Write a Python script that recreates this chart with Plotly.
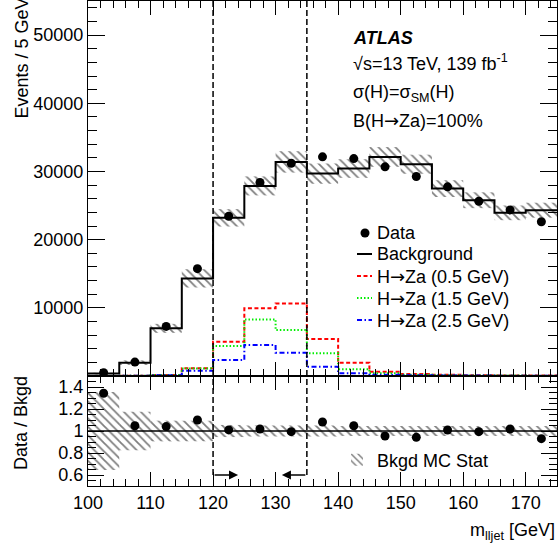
import plotly.graph_objects as go

# ---------------- data ----------------
bin_low = [100, 105, 110, 115, 120, 125, 130, 135, 140, 145, 150, 155, 160, 165, 170]
bin_width = 5
x_max = 175
background = [350, 1950, 6990, 14310, 23200, 27880, 31400, 29700, 30430, 32130, 31060, 27490, 25780, 23930, 24320]
data = [470, 2044, 7270, 15740, 23430, 28380, 31210, 32140, 31890, 30680, 29260, 27740, 25630, 24360, 22620]
mc_stat_rel = [0.355, 0.175, 0.094, 0.094, 0.055, 0.05, 0.05, 0.05, 0.045, 0.045, 0.045, 0.045, 0.045, 0.045, 0.045]
sig_05 = [10, 30, 150, 1130, 5030, 9920, 10650, 5420, 1950, 630, 290, 170, 120, 90, 70]
sig_15 = [10, 30, 150, 1100, 4400, 8300, 6740, 3320, 980, 390, 180, 120, 80, 60, 50]
sig_25 = [10, 30, 120, 780, 2340, 4540, 3420, 1370, 390, 180, 120, 90, 70, 50, 40]
window_lo = 120
window_hi = 135
arrow_len = 4

main_yticks = [0, 10000, 20000, 30000, 40000, 50000]
main_yticktext = ["", "10000", "20000", "30000", "40000", "50000"]
ratio_yticks = [0.6, 0.8, 1.0, 1.2, 1.4]
ratio_yticktext = ["0.6", "0.8", "1", "1.2", "1.4"]
xticks = [100, 110, 120, 130, 140, 150, 160, 170]
xticktext = ["100", "110", "120", "130", "140", "150", "160", "170"]

centers = [lo + bin_width / 2 for lo in bin_low]
step_x = bin_low + [x_max]
ratio = [d / b for d, b in zip(data, background)]

# ---------------- geometry helpers ----------------
W, H = 559, 543
L, R, T, B = 88, 557, 1, 486
PW, PH = R - L, B - T


def px(x):
    return (x - L) / PW


def py(y):
    return (B - y) / PH


split = py(376)
FONT = "Liberation Sans, Arial, Helvetica, sans-serif"
FS = 18
CLEAR = "rgba(0,0,0,0)"
HATCH = dict(shape="\\", size=6, solidity=0.3, fgcolor="black", bgcolor=CLEAR, fillmode="overlay")
ARROW = "<span style='font-family:DejaVu Sans'>→</span>"

fig = go.Figure()

# MC stat hatched band (main)
fig.add_trace(go.Bar(
    x=centers, y=[2 * b * e for b, e in zip(background, mc_stat_rel)],
    base=[b * (1 - e) for b, e in zip(background, mc_stat_rel)],
    width=bin_width, marker=dict(color=CLEAR, line=dict(width=0), pattern=HATCH),
    xaxis="x", yaxis="y", showlegend=False, hoverinfo="skip"))

# signals
for vals, col, dash in [(sig_05, "#ff0000", "4px,2.5px"),
                        (sig_15, "#00ee00", "1.5px,2px"),
                        (sig_25, "#0000ff", "5px,2.5px,1.5px,2.5px")]:
    fig.add_trace(go.Scatter(x=step_x, y=vals + [vals[-1]], mode="lines", line_shape="hv",
                             line=dict(color=col, width=2, dash=dash),
                             xaxis="x", yaxis="y", showlegend=False))

# background
fig.add_trace(go.Scatter(x=step_x, y=background + [background[-1]], mode="lines", line_shape="hv",
                         line=dict(color="black", width=2), xaxis="x", yaxis="y", showlegend=False))
# data
fig.add_trace(go.Scatter(x=centers, y=data, mode="markers", marker=dict(color="black", size=9),
                         xaxis="x", yaxis="y", showlegend=False))

# ratio band
fig.add_trace(go.Bar(
    x=centers, y=[2 * e for e in mc_stat_rel], base=[1 - e for e in mc_stat_rel],
    width=bin_width, name="Bkgd MC Stat", legend="legend2",
    marker=dict(color=CLEAR, line=dict(width=0), pattern=HATCH),
    xaxis="x2", yaxis="y2", showlegend=True, hoverinfo="skip"))
fig.add_trace(go.Scatter(x=centers, y=ratio, mode="markers", marker=dict(color="black", size=9),
                         xaxis="x2", yaxis="y2", showlegend=False))

axis_common = dict(showline=True, linecolor="black", linewidth=1, mirror="allticks",
                   ticks="inside", tickcolor="black", tickwidth=1, showgrid=False, zeroline=False,
                   tickfont=dict(family=FONT, size=FS, color="black"))

fig.update_layout(
    width=W, height=H, autosize=False,
    margin=dict(l=L, r=W - R, t=T, b=H - B, pad=0),
    paper_bgcolor="white", plot_bgcolor="white",
    font=dict(family=FONT, size=FS, color="black"),
    barmode="overlay", showlegend=True,
    xaxis=dict(domain=[0, 1], anchor="y", range=[bin_low[0], x_max], tickvals=xticks,
               showticklabels=False, ticklen=14,
               minor=dict(dtick=2, tick0=100, ticklen=7, ticks="inside", tickcolor="black"),
               matches="x2", **axis_common),
    yaxis=dict(domain=[split, 1], anchor="x", range=[0, 55000], tickvals=main_yticks,
               ticktext=main_yticktext, ticklen=17,
               minor=dict(dtick=2000, tick0=0, ticklen=9, ticks="inside", tickcolor="black"),
               **axis_common),
    xaxis2=dict(domain=[0, 1], anchor="y2", range=[bin_low[0], x_max], tickvals=xticks,
                ticktext=xticktext, ticklen=14,
                minor=dict(dtick=2, tick0=100, ticklen=7, ticks="inside", tickcolor="black"),
                **axis_common),
    yaxis2=dict(domain=[0, split], anchor="x2", range=[0.5, 1.5], tickvals=ratio_yticks,
                ticktext=ratio_yticktext, ticklen=16,
                minor=dict(dtick=0.05, tick0=0.5, ticklen=8, ticks="inside", tickcolor="black"),
                **axis_common),
    legend2=dict(x=px(337), y=py(460), xanchor="left", yanchor="middle",
                 bgcolor=CLEAR, font=dict(family=FONT, size=FS, color="black")),
)

shapes = []
# window lines
for xv in (window_lo, window_hi):
    shapes.append(dict(type="line", xref="x", yref="y", x0=xv, x1=xv, y0=0, y1=55000,
                       line=dict(color="black", width=1.5, dash="6px,3px")))
    shapes.append(dict(type="line", xref="x2", yref="y2", x0=xv, x1=xv, y0=0.6, y1=1.5,
                       line=dict(color="black", width=1.5, dash="6px,3px")))
# ratio unity line
shapes.append(dict(type="line", xref="x2", yref="y2", x0=bin_low[0], x1=x_max, y0=1, y1=1,
                   line=dict(color="black", width=1.5)))

# manual legend symbols (main panel)
leg_x0, leg_x1, leg_tx = 357, 372, 375
leg_rows = [233, 254, 276, 298, 320]
shapes.append(dict(type="circle", xref="paper", yref="paper",
                   x0=px(360.5), x1=px(369.5), y0=py(leg_rows[0] + 4.5), y1=py(leg_rows[0] - 4.5),
                   fillcolor="black", line=dict(width=0)))
for row, col, dash, wd in [(leg_rows[1], "black", "solid", 2),
                           (leg_rows[2], "#ff0000", "4px,2.5px", 2),
                           (leg_rows[3], "#00ee00", "1.5px,2px", 2),
                           (leg_rows[4], "#0000ff", "5px,2.5px,1.5px,2.5px", 2)]:
    shapes.append(dict(type="line", xref="paper", yref="paper", x0=px(leg_x0), x1=px(leg_x1),
                       y0=py(row), y1=py(row), line=dict(color=col, width=wd, dash=dash)))
fig.update_layout(shapes=shapes)

ann = []
leg_texts = ["Data", "Background", "H" + ARROW + "Za (0.5 GeV)", "H" + ARROW + "Za (1.5 GeV)",
             "H" + ARROW + "Za (2.5 GeV)"]
for row, t in zip(leg_rows, leg_texts):
    ann.append(dict(text=t, x=px(leg_tx), y=py(row), xref="paper", yref="paper",
                    xanchor="left", yanchor="middle", showarrow=False, font=dict(size=FS)))

# ATLAS labels
ann.append(dict(text="<b><i>ATLAS</i></b>", x=px(351), y=py(38), xref="paper", yref="paper",
                xanchor="left", yanchor="middle", showarrow=False, font=dict(size=FS)))
ann.append(dict(text="√s=13 TeV, 139 fb<sup>-1</sup>", x=px(351), y=py(62), xref="paper", yref="paper",
                xanchor="left", yanchor="middle", showarrow=False, font=dict(size=FS)))
ann.append(dict(text="σ(H)=σ<sub>SM</sub>(H)", x=px(351), y=py(94), xref="paper", yref="paper",
                xanchor="left", yanchor="middle", showarrow=False, font=dict(size=FS)))
ann.append(dict(text="B(H" + ARROW + "Za)=100%", x=px(351), y=py(120), xref="paper", yref="paper",
                xanchor="left", yanchor="middle", showarrow=False, font=dict(size=FS)))

# axis titles
ann.append(dict(text="Events / 5 GeV", textangle=-90, x=px(21), y=py(-4), xref="paper", yref="paper",
                xanchor="center", yanchor="top", showarrow=False, font=dict(size=FS)))
ann.append(dict(text="Data / Bkgd", textangle=-90, x=px(21), y=py(374), xref="paper", yref="paper",
                xanchor="center", yanchor="top", showarrow=False, font=dict(size=FS)))
ann.append(dict(text="m<sub>lljet</sub> [GeV]", x=1, y=py(531), xref="paper", yref="paper",
                xanchor="right", yanchor="middle", showarrow=False, font=dict(size=FS)))

# window arrows
ann.append(dict(x=window_lo + arrow_len, y=0.6, ax=window_lo, ay=0.6, xref="x2", yref="y2",
                axref="x2", ayref="y2", text="", showarrow=True, arrowhead=2, arrowsize=1.4,
                arrowwidth=1.3, arrowcolor="black"))
ann.append(dict(x=window_hi - arrow_len, y=0.6, ax=window_hi, ay=0.6, xref="x2", yref="y2",
                axref="x2", ayref="y2", text="", showarrow=True, arrowhead=2, arrowsize=1.4,
                arrowwidth=1.3, arrowcolor="black"))
fig.update_layout(annotations=ann)

fig.write_html("out.html", config={"displayModeBar": False},
               post_script="document.body.style.margin='0';document.body.style.overflow='hidden';")
